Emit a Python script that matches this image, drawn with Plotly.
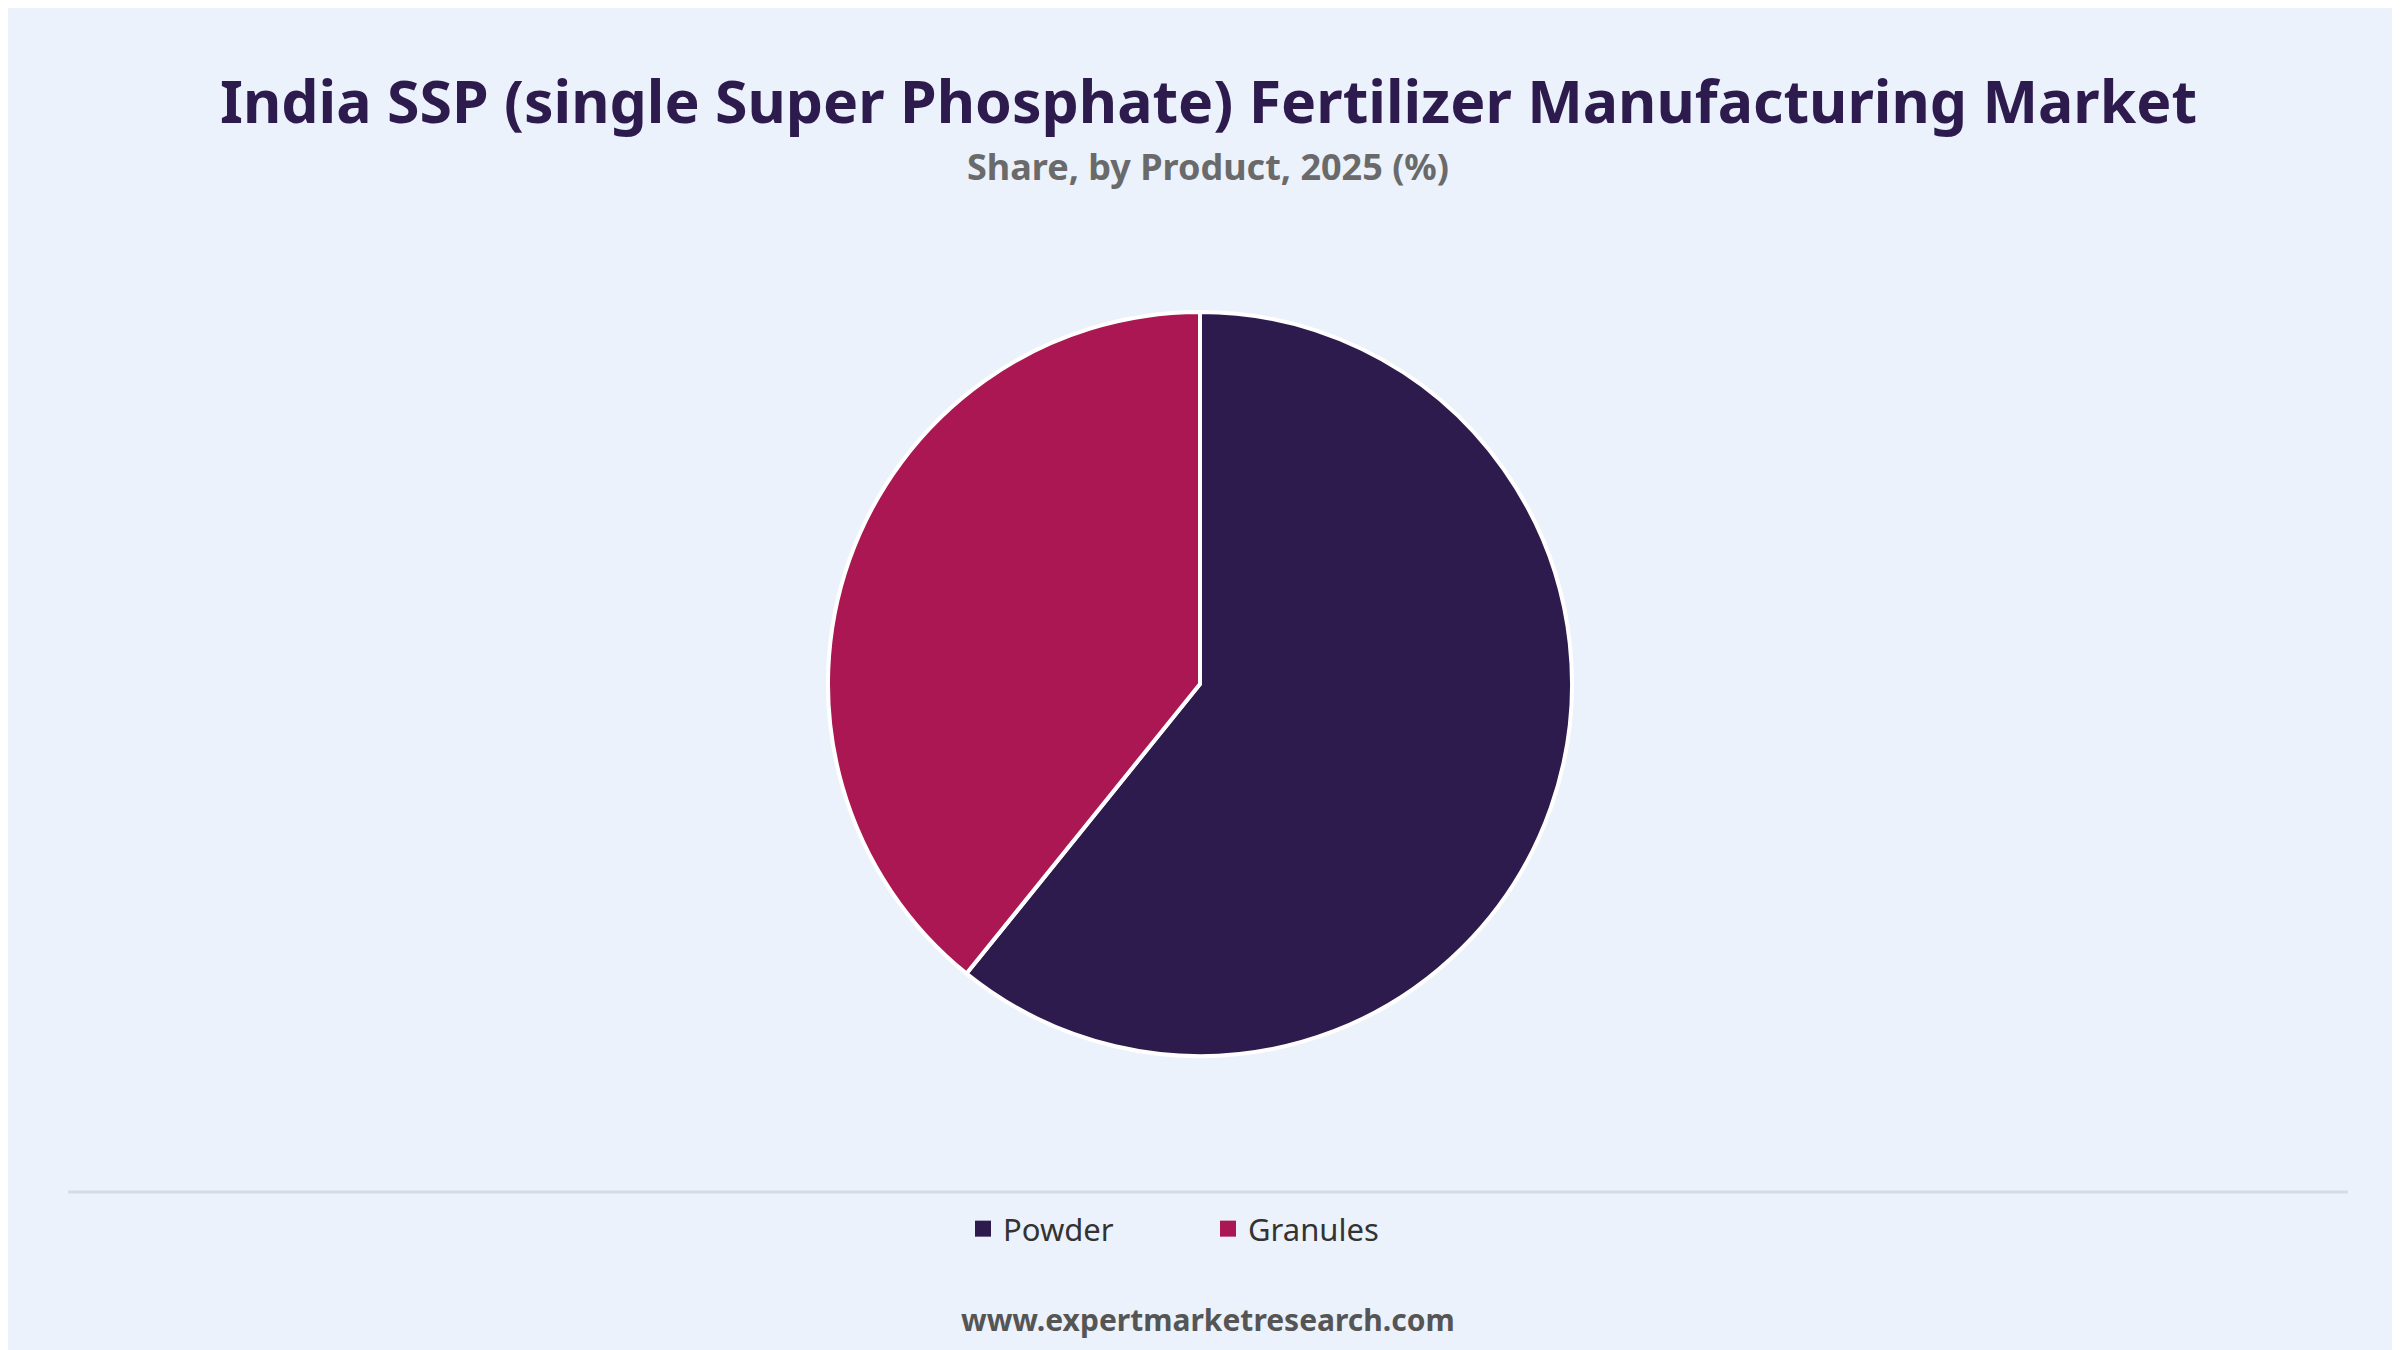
import plotly.graph_objects as go

products = ["Powder", "Granules"]
shares = [60.8, 39.2]
colors = ["#2E1B4D", "#AA1753"]

S = 8  # page offset correction (px)
fig = go.Figure(go.Pie(
    labels=products, values=shares, sort=False, direction="clockwise", rotation=0,
    marker=dict(colors=colors, line=dict(color="white", width=4)),
    textinfo="none", hoverinfo="label+percent", showlegend=False,
    domain=dict(x=[(828-S)/2400, (1572-S)/2400], y=[1-(1056-S)/1350, 1-(312-S)/1350]),
))
for p, c in zip(products, colors):
    fig.add_trace(go.Scatter(x=[None], y=[None], mode="markers", name=p,
                             marker=dict(symbol="square", size=30, color=c)))
fig.update_xaxes(visible=False)
fig.update_yaxes(visible=False)
fig.update_layout(
    width=2400, height=1350, paper_bgcolor="#EBF2FC", plot_bgcolor="#EBF2FC",
    margin=dict(l=0, r=0, t=0, b=0),
    font=dict(family="Noto Sans, Open Sans, sans-serif"),
    showlegend=True,
    legend=dict(orientation="h", x=0.5, xanchor="center", y=1 - (1229-S)/1350, yanchor="middle",
                font=dict(size=31, color="#333333"),
                entrywidthmode="pixels", entrywidth=200),
    annotations=[
        dict(text="<b>India SSP (single Super Phosphate) Fertilizer Manufacturing Market</b>",
             x=0.5, y=1 - (100-S)/1350, xref="paper", yref="paper", showarrow=False,
             font=dict(size=59, color="#2E1B4D"), xanchor="center", yanchor="middle"),
        dict(text="<b>Share, by Product, 2025 (%)</b>",
             x=0.5, y=1 - (166-S)/1350, xref="paper", yref="paper", showarrow=False,
             font=dict(size=36, color="#6A6A6A"), xanchor="center", yanchor="middle"),
        dict(text="<b>www.expertmarketresearch.com</b>",
             x=0.5, y=1 - (1319-S)/1350, xref="paper", yref="paper", showarrow=False,
             font=dict(size=30, color="#555555"), xanchor="center", yanchor="middle"),
    ],
    shapes=[dict(type="line", xref="paper", yref="paper", x0=60/2400, x1=2340/2400,
                 y0=1 - (1192-S)/1350, y1=1 - (1192-S)/1350, line=dict(color="#D8DCE2", width=3))],
)
fig.write_html("out.html")
